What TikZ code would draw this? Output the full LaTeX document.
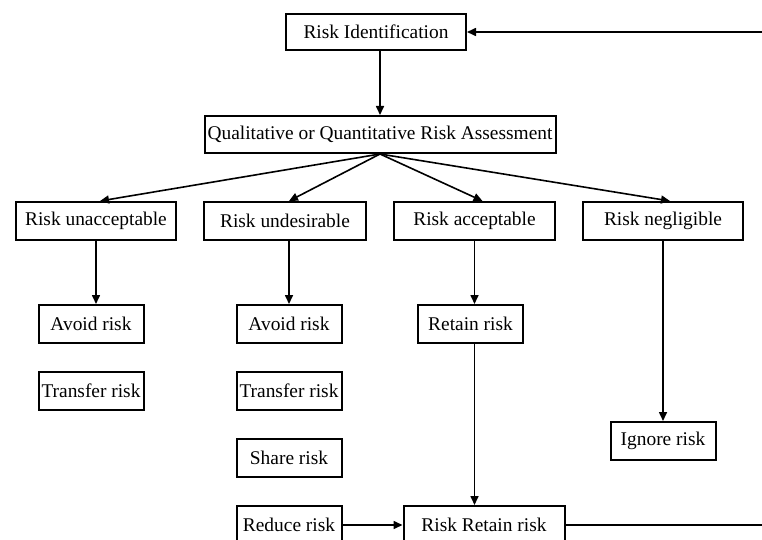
\documentclass[tikz,border=0pt]{standalone}
\usepackage{fontspec}
\setmainfont{Liberation Serif}
\usetikzlibrary{arrows.meta,positioning}

\begin{document}
\begin{tikzpicture}[
      x=1pt,y=1pt,
      node distance=27pt and 26pt,
      riskbox/.style={draw,line width=2pt,minimum height=38pt,inner sep=2pt,
                      align=center,font=\fontsize{19.4pt}{23pt}\selectfont},
      actbox/.style={riskbox,minimum width=105pt},
      arrow/.style={-{Triangle[length=9pt,width=8pt]},line width=1.6pt}
  ]
    \useasboundingbox (0,0) rectangle (762,-540);

    \node[riskbox,minimum width=180pt,minimum height=36pt] (ident) at (376,-32) {Risk Identification};
    \node[riskbox,minimum width=351pt,minimum height=37pt,below=64pt of ident,xshift=4pt] (assess) {Qualitative or Quantitative Risk Assessment};

    \node[riskbox,minimum width=160pt] (unacc) at (96,-221) {Risk unacceptable};
    \node[riskbox,minimum width=162pt,right=of unacc]  (undes)  {Risk undesirable};
    \node[riskbox,minimum width=161pt,right=of undes]  (accept) {Risk acceptable};
    \node[riskbox,minimum width=160pt,right=of accept] (neglig) {Risk negligible};

    \node[actbox,below=63pt of unacc,xshift=-5pt] (avoidA) {Avoid risk};
    \node[actbox,below=of avoidA] (transA) {Transfer risk};

    \node[actbox,below=63pt of undes,xshift=4pt] (avoidB) {Avoid risk};
    \node[actbox,below=of avoidB] (transB) {Transfer risk};
    \node[actbox,below=of transB] (share)  {Share risk};
    \node[actbox,below=of share]  (reduce) {Reduce risk};

    \node[actbox,below=63pt of accept,xshift=-4pt] (retain) {Retain risk};
    \node[actbox,below=180pt of neglig] (ignore) {Ignore risk};
    \node[riskbox,minimum width=161pt,right=60pt of reduce] (rrr) {Risk Retain risk};

    \coordinate[right=198pt of rrr.east] (loop);

    \draw[arrow] (assess.north |- ident.south) -- (assess.north);
    \draw[arrow] (assess.south) -- ([xshift=4pt]unacc.north);
    \draw[arrow] (assess.south) -- ([xshift=4pt]undes.north);
    \draw[arrow] (assess.south) -- ([xshift=8pt]accept.north);
    \draw[arrow] (assess.south) -- ([xshift=7pt]neglig.north);
    \draw[arrow] (unacc.south) -- (unacc.south |- avoidA.north);
    \draw[arrow] (avoidB.north |- undes.south) -- (avoidB.north);
    \draw[arrow] (accept.south) -- (accept.south |- retain.north);
    \draw[arrow] (retain.south -| accept.south) -- (rrr.north -| accept.south);
    \draw[arrow] (neglig) -- (ignore);
    \draw[arrow] (reduce) -- (rrr);
    \draw[arrow] (rrr.east) -- (loop) |- (ident.east);
  \end{tikzpicture}
\end{document}
